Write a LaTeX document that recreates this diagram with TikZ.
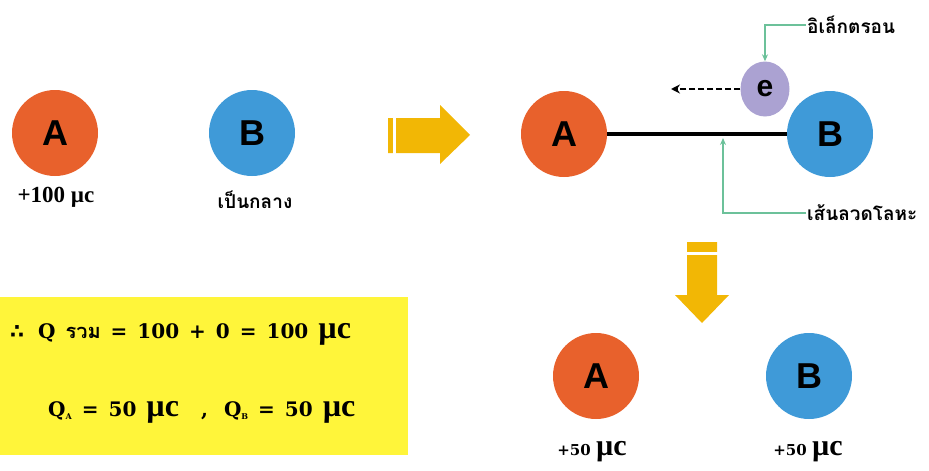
\documentclass[tikz,border=0pt]{standalone}
\usepackage{fontspec}
\setmainfont{Liberation Serif}
\newfontfamily\thaifont[Script=Thai]{Loma}
\newfontfamily\letterfont{Liberation Sans}
\newfontfamily\symfont{DejaVu Sans}
\newfontfamily\wideserif{DejaVu Serif}
\usetikzlibrary{arrows.meta,shapes.geometric}
\definecolor{orangeA}{HTML}{E8612C}
\definecolor{blueB}{HTML}{3F9AD8}
\definecolor{lavender}{HTML}{ABA2D2}
\definecolor{arrowyellow}{HTML}{F2B705}
\definecolor{calloutgreen}{HTML}{6CC19A}
\definecolor{boxyellow}{HTML}{FFF53A}
\newcommand{\bigmuc}[1]{{\rmfamily\bfseries\fontsize{#1}{#1}\selectfont µc}}
\newcommand{\subq}[1]{Q\raisebox{-3pt}{\fontsize{8}{8}\selectfont #1}}
\newcommand{\widesp}{\spaceskip=10pt plus 1pt\relax}
\begin{document}
\begin{tikzpicture}[x=1pt,y=-1pt,
  ball/.style={circle,minimum size=86pt,inner sep=0pt,font=\letterfont\bfseries\fontsize{36}{36}\selectfont},
  ballA/.style={ball,fill=orangeA},
  ballB/.style={ball,fill=blueB},
  lbl/.style={font=\bfseries\fontsize{23}{25}\selectfont},
  smalllbl/.style={font=\wideserif\bfseries\fontsize{15}{17}\selectfont},
  thai/.style={font=\thaifont\bfseries\fontsize{19}{21}\selectfont,anchor=west,inner sep=1pt},
  callout/.style={draw=calloutgreen,line width=1.3pt,-{Stealth[length=7pt,width=6pt]}},
  bigarrow/.style={fill=arrowyellow},
  boxtext/.style={font=\wideserif\bfseries\fontsize{20}{24}\selectfont,anchor=west,inner sep=0pt}
]
\useasboundingbox (0,0) rectangle (929,471);

% first stage
\node[ballA] (a1) at (55,133) {A};
\node[ballB] (b1) at (252,133) {B};
\node[lbl] (a1lbl) at (56,197) {+100 µc};
\node[font=\thaifont\bfseries\fontsize{19}{21}\selectfont] (b1lbl) at (255,200) {เป็นกลาง};

% right arrow
\fill[bigarrow] (388,118) -- (440,118) -- (440,105) -- (470,135) -- (440,164) -- (440,153) -- (388,153) -- cycle;
\fill[white] (393,117) rectangle (396,154);

% second stage
\node[ballA] (a2) at (564,134) {A};
\node[ballB] (b2) at (830,134) {B};
\draw[line width=4pt] (a2.east) -- (b2.west);
\node[ellipse,fill=lavender,minimum width=49pt,minimum height=55pt,inner sep=0pt,
      font=\letterfont\bfseries\fontsize{30}{30}\selectfont] (e) at (765,89) {e};
\coordinate (eend) at (671,89);
\draw[dashed,line width=1.8pt,dash pattern=on 6pt off 3pt,-{Stealth[length=9pt,width=9pt]}] (e.west) -- (eend);

\node[thai] (elbl) at (806,25) {อิเล็กตรอน};
\draw[callout] (elbl.west) -| (e.north);
\node[thai] (wlbl) at (806,213) {เส้นลวดโลหะ};
\coordinate (wirept) at (723,138);
\draw[callout] (wlbl.west) -| (wirept);

% down arrow
\fill[bigarrow] (687,242) -- (717,242) -- (717,295) -- (729,295) -- (702,323) -- (675,295) -- (687,295) -- cycle;
\fill[white] (686,252) rectangle (718,254.5);

% third stage
\node[ballA] (a3) at (596,376) {A};
\node[ballB] (b3) at (809,376) {B};
\node[smalllbl] (a3lbl) at (592,452) {+50 \bigmuc{30}};
\node[smalllbl] (b3lbl) at (808,452) {+50 \bigmuc{30}};

% result box
\node[fill=boxyellow,minimum width=408pt,minimum height=158pt,inner sep=0pt,anchor=north west] (box) at (0,297) {};
\node[boxtext] (line1) at (10,334) {\widesp{\symfont ∴}\hspace{14pt}Q {\thaifont\bfseries\fontsize{20}{22}\selectfont รวม} = 100 + 0 = 100 \bigmuc{32}};
\node[boxtext] (line2) at (48,412) {\widesp\subq{A} = 50 \bigmuc{32}\hspace{12pt} ,\hspace{6pt} \subq{B} = 50 \bigmuc{32}};
\end{tikzpicture}
\end{document}
